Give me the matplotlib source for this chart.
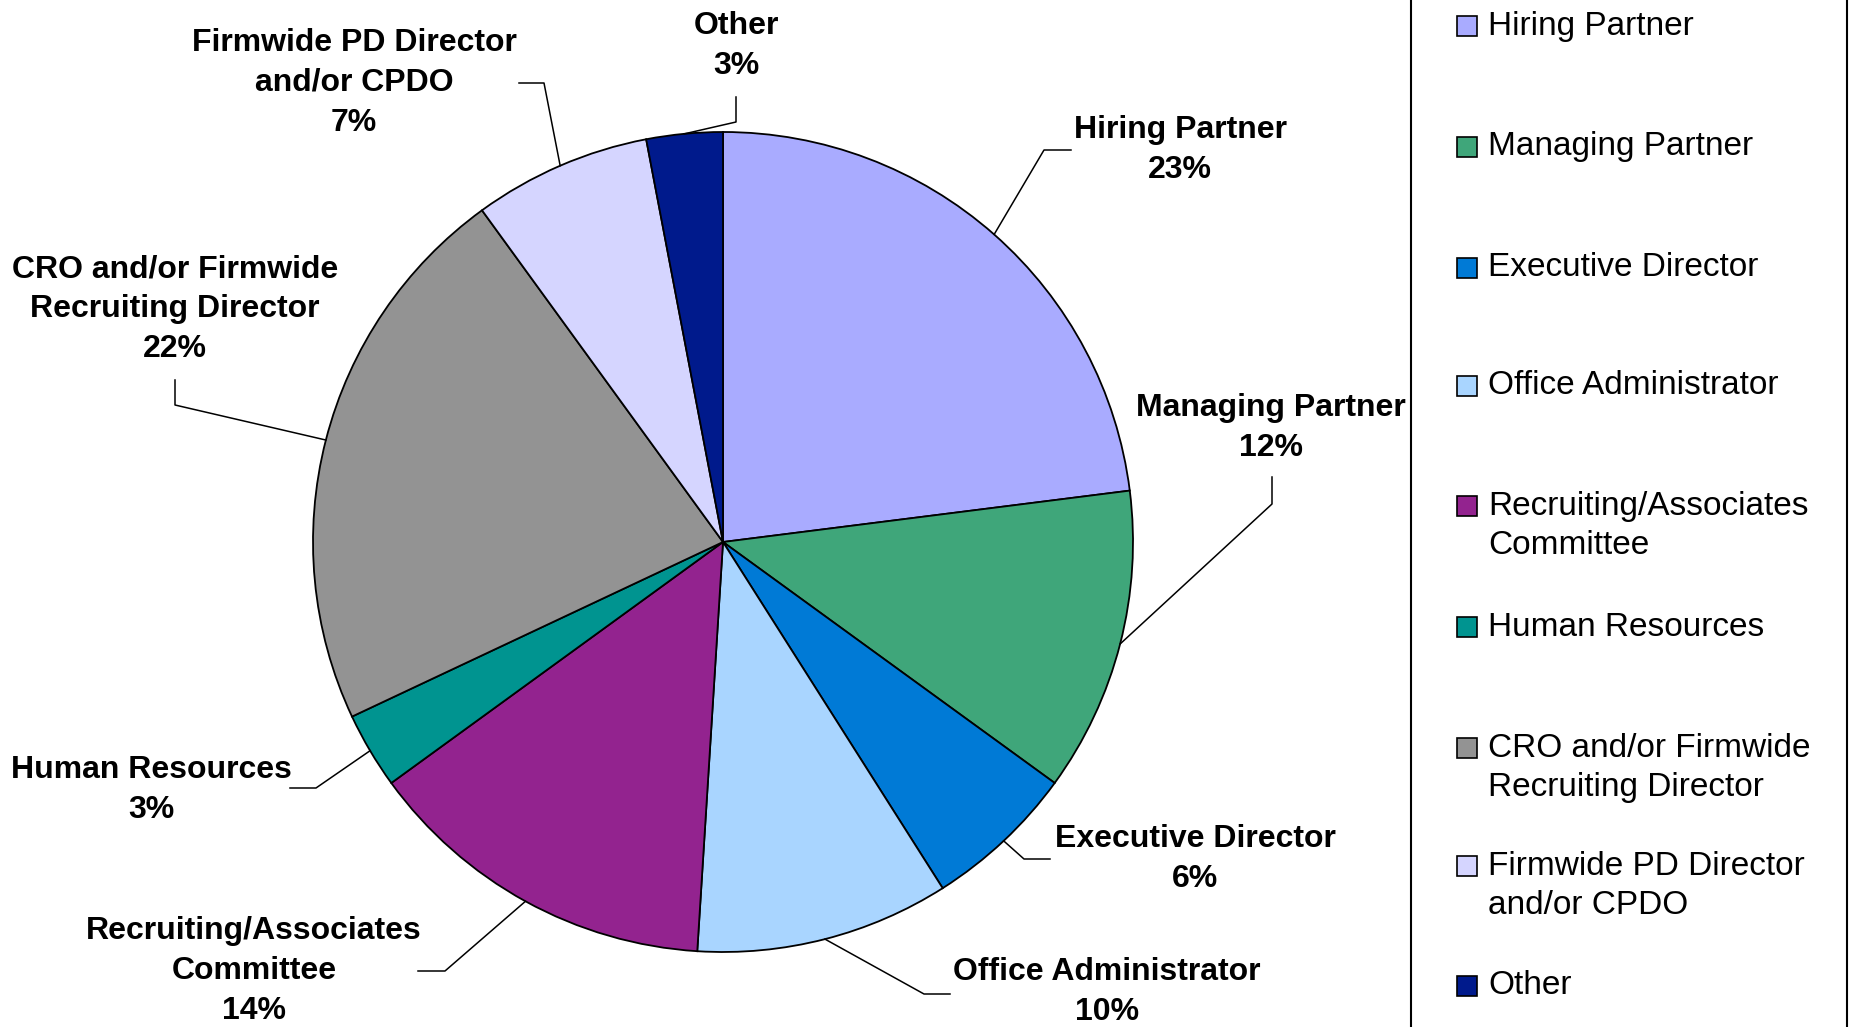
import matplotlib.pyplot as plt
from matplotlib.patches import Rectangle
import numpy as np

# Werte aus dem Bild (Prozent)
kategorien = ['Hiring Partner', 'Managing Partner', 'Executive Director',
              'Office Administrator', 'Recruiting/Associates\nCommittee',
              'Human Resources', 'CRO and/or Firmwide\nRecruiting Director',
              'Firmwide PD Director\nand/or CPDO', 'Other']
anteile = [23, 12, 6, 10, 14, 3, 22, 7, 3]
farben = ['#A9ABFF', '#3FA67A', '#007AD6', '#A9D5FF', '#93238F',
          '#009490', '#939393', '#D5D5FF', '#001A8C']

W, H = 1850, 1027
cx, cy, R = 723, 542, 410

fig = plt.figure(figsize=(W / 100, H / 100), dpi=100)
ax = fig.add_axes([(cx - R) / W, (H - cy - R) / H, 2 * R / W, 2 * R / H])

wedges, _ = ax.pie(anteile, colors=farben, startangle=90, counterclock=False,
                   wedgeprops=dict(edgecolor='black', linewidth=1.3))
ax.set_xlim(-1, 1)
ax.set_ylim(-1, 1)
ax.set_aspect('equal')
ax.axis('off')


def px(x, y):
    # Pixel (von oben) -> Datenkoordinaten des Kreises
    return (x - cx) / R, (cy - y) / R


# Beschriftung: Textmitte, Knick, Ende der Linie (Pixel)
text_pos = [(1180, 150), (1271, 428), (1195, 859), (1107, 992), (254, 971),
            (151, 790), (175, 309), (354, 83), (736, 46)]
knick = [(1044, 150), (1272, 504), (1024, 859), (924, 994), (445, 971),
         (316, 788), (175, 405), (544, 83), (736, 122)]
ende = [(1071, 150), (1272, 477), (1050, 859), (950, 994), (418, 971),
        (290, 788), (175, 380), (519, 83), (736, 97)]

label_font = ['Liberation Sans Narrow', 'Liberation Sans', 'DejaVu Sans']

for w, name, wert, tp, kn, en in zip(wedges, kategorien, anteile, text_pos, knick, ende):
    mitte = np.deg2rad((w.theta1 + w.theta2) / 2)
    ax0, ay0 = np.cos(mitte), np.sin(mitte)
    kx, ky = px(*kn)
    ex, ey = px(*en)
    ax.plot([ax0, kx, ex], [ay0, ky, ey], color='black', linewidth=1.1,
            clip_on=False)
    tx, ty = px(*tp)
    ax.text(tx, ty, f'{name}\n{wert}%', ha='center', va='center',
            multialignment='center', fontsize=23, fontweight='bold',
            family=label_font, linespacing=1.42)

# Legende von Hand (Kasten oben und unten abgeschnitten)
fig.patches.append(Rectangle((1411 / W, -0.05), (1847 - 1411) / W, 1.1,
                             transform=fig.transFigure, fill=False,
                             edgecolor='black', linewidth=1.5))

leg_y = [26, 147, 268, 386, 506, 627, 748, 866, 986]
for name, farbe, y in zip(kategorien, farben, leg_y):
    fig.patches.append(Rectangle((1457 / W, (H - y - 10) / H), 20 / W, 20 / H,
                                 transform=fig.transFigure, facecolor=farbe,
                                 edgecolor='black', linewidth=1.2))
    n = name.count('\n')
    fig.text(1488 / W, (H - y - n * 20) / H, name, ha='left', va='center',
             fontsize=24, family=['Liberation Sans', 'DejaVu Sans'],
             linespacing=1.37)

fig.savefig('out.png', dpi=100)
